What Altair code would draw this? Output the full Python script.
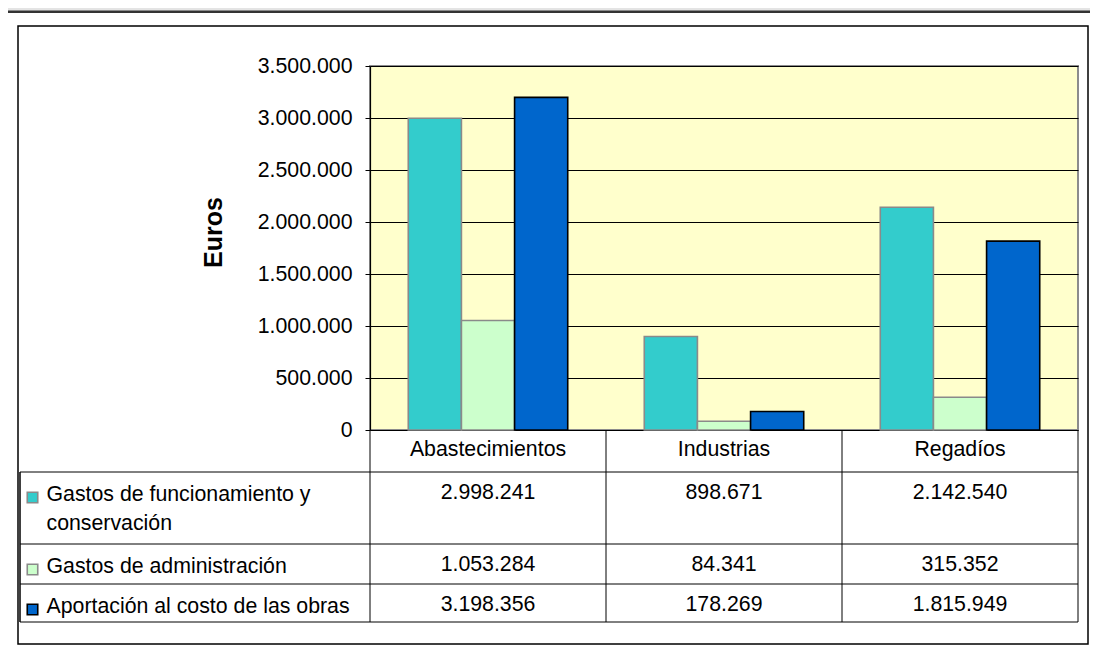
import altair as alt
import pandas as pd

# ---- data -------------------------------------------------------------
categories = ["Abastecimientos", "Industrias", "Regadíos"]
series = [
    "Gastos de funcionamiento y conservación",
    "Gastos de administración",
    "Aportación al costo de las obras",
]
series_labels = [
    "Gastos de funcionamiento y\nconservación",
    "Gastos de administración",
    "Aportación al costo de las obras",
]
funcionamiento = [2998241, 898671, 2142540]
administracion = [1053284, 84341, 315352]
aportacion = [3198356, 178269, 1815949]
y_ticks = [0, 500000, 1000000, 1500000, 2000000, 2500000, 3000000, 3500000]

# ---- layout / style (not data) ----------------------------------------
W, H = 708, 364
FONT = "Liberation Sans"
FS = 21.3
fills = ["#33CCCC", "#CCFFCC", "#0066CC"]
strokes = ["#8a8a8a", "#8a8a8a", "#000000"]
ROW_H = [42, 72, 40, 38]  # header row + one row per series
row_tops = [sum(ROW_H[:i]) for i in range(len(ROW_H))]
TABLE_H = sum(ROW_H)


def fmt(v):
    return f"{v:,}".replace(",", ".")


all_vals = [funcionamiento, administracion, aportacion]
bars = pd.DataFrame(
    [
        {"Categoría": c, "Serie": s, "Valor": vals[j], "Texto": fmt(vals[j]),
         "ty": row_tops[i + 1] + 26.5}
        for i, (s, vals) in enumerate(zip(series, all_vals))
        for j, c in enumerate(categories)
    ]
)
legend_df = pd.DataFrame(
    {
        "Serie": series,
        "Etiqueta": series_labels,
        "ty": [row_tops[i + 1] + 28.5 for i in range(len(series))],
        "sy": [row_tops[i + 1] + 25.5 for i in range(len(series))],
    }
)
header_df = pd.DataFrame({"Categoría": categories, "ty": [26] * len(categories)})
hlines_df = pd.DataFrame({"ty": row_tops[1:] + [TABLE_H]})
vlines_df = pd.DataFrame({"Categoría": categories})

x_scale = alt.Scale(domain=categories, paddingInner=0, paddingOuter=0)
color_scale = alt.Scale(domain=series, range=fills)
stroke_scale = alt.Scale(domain=series, range=strokes)
ty_scale = alt.Scale(domain=[0, TABLE_H], range=[H, H + TABLE_H], nice=False, zero=False)

base_x = alt.X("Categoría:N", scale=x_scale,
               axis=alt.Axis(labels=False, ticks=False, title=None, grid=False,
                             domain=True, domainColor="#000000", domainWidth=1.2))

bar_layer = alt.Chart(bars).mark_bar(strokeWidth=1.6).encode(
    x=base_x,
    xOffset=alt.XOffset("Serie:N", scale=alt.Scale(domain=series, paddingInner=0, paddingOuter=0.72)),
    y=alt.Y(
        "Valor:Q",
        scale=alt.Scale(domain=[0, 3500000], nice=False),
        axis=alt.Axis(
            values=y_ticks,
            title="Euros",
            titleFontSize=25,
            titleFontWeight="bold",
            titleFont=FONT,
            titleColor="#000000",
            titleX=-157,
            titleY=166,
            titleBaseline="middle",
            labelExpr="replace(format(datum.value, ','), regexp(',', 'g'), '.')",
            labelFontSize=FS,
            labelFont=FONT,
            labelColor="#000000",
            labelPadding=13,
            labelFlush=False,
            labelOverlap=False,
            tickColor="#000000",
            tickSize=5,
            domainColor="#000000",
            domainWidth=1.2,
            grid=True,
            gridColor="#000000",
            gridOpacity=1,
            gridWidth=1,
        ),
    ),
    color=alt.Color("Serie:N", scale=color_scale, legend=None),
    stroke=alt.Stroke("Serie:N", scale=stroke_scale, legend=None),
)

# table: header (category names)
header_layer = alt.Chart(header_df).mark_text(
    font=FONT, fontSize=FS, color="#000000", baseline="alphabetic", align="center"
).encode(
    x=alt.X("Categoría:N", scale=x_scale, axis=None),
    y=alt.Y("ty:Q", scale=ty_scale, axis=None),
    text="Categoría:N",
)

# table: values
values_layer = alt.Chart(bars).mark_text(
    font=FONT, fontSize=FS, color="#000000", baseline="alphabetic", align="center"
).encode(
    x=alt.X("Categoría:N", scale=x_scale, axis=None),
    y=alt.Y("ty:Q", scale=ty_scale, axis=None),
    text="Texto:N",
)

# table: series labels
labels_layer = alt.Chart(legend_df).mark_text(
    font=FONT, fontSize=FS, color="#000000", baseline="alphabetic", align="left",
    lineBreak="\n", lineHeight=29,
).encode(
    x=alt.value(-323.5),
    y=alt.Y("ty:Q", scale=ty_scale, axis=None),
    text="Etiqueta:N",
)

swatch_layer = alt.Chart(legend_df).mark_square(size=110, strokeWidth=1.6, opacity=1).encode(
    x=alt.value(-337.5),
    y=alt.Y("sy:Q", scale=ty_scale, axis=None),
    color=alt.Color("Serie:N", scale=color_scale, legend=None),
    stroke=alt.Stroke("Serie:N", scale=stroke_scale, legend=None),
)

# table grid lines
hlines_layer = alt.Chart(hlines_df).mark_rule(color="#000000", strokeWidth=1).encode(
    x=alt.value(-350),
    x2=alt.value(W),
    y=alt.Y("ty:Q", scale=ty_scale, axis=None),
)
vlines_layer = alt.Chart(vlines_df).mark_rule(color="#000000", strokeWidth=1).encode(
    x=alt.X("Categoría:N", scale=x_scale, bandPosition=0, axis=None),
    y=alt.Y("y0:Q", scale=ty_scale, axis=None),
    y2="y1:Q",
).transform_calculate(y0="0", y1=str(TABLE_H))
vlast_layer = alt.Chart(vlines_df).transform_filter(
    alt.datum["Categoría"] == categories[-1]
).mark_rule(color="#000000", strokeWidth=1).encode(
    x=alt.X("Categoría:N", scale=x_scale, bandPosition=1, axis=None),
    y=alt.Y("y0:Q", scale=ty_scale, axis=None),
    y2="y1:Q",
).transform_calculate(y0="0", y1=str(TABLE_H))
vleft_layer = alt.Chart(hlines_df).transform_aggregate(
    y0="min(ty)", y1="max(ty)"
).mark_rule(color="#000000", strokeWidth=1.5).encode(
    x=alt.value(-350),
    y=alt.Y("y0:Q", scale=ty_scale, axis=None),
    y2="y1:Q",
)

# frame decorations (kept inside the 1082px-wide drawing area)
deco = pd.DataFrame({"k": [0]})
top_band = alt.Chart(deco).mark_rect(color="#e4e4e4").encode(
    x=alt.value(-362), x2=alt.value(720), y=alt.value(-58), y2=alt.value(-55)
)
top_line = alt.Chart(deco).mark_rect(color="#333333").encode(
    x=alt.value(-362), x2=alt.value(720), y=alt.value(-55.5), y2=alt.value(-53)
)
outer_box = alt.Chart(deco).mark_rect(fillOpacity=0, stroke="#000000", strokeWidth=1.5).encode(
    x=alt.value(-352), x2=alt.value(718), y=alt.value(-40), y2=alt.value(578)
)

chart = (
    alt.layer(
        top_band, top_line, outer_box,
        bar_layer,
        hlines_layer, vlines_layer, vlast_layer, vleft_layer,
        header_layer, values_layer, labels_layer, swatch_layer,
    )
    .resolve_scale(y="independent")
    .properties(width=W, height=H, padding=0, background="#ffffff")
    .configure_view(fill="#FFFFCC", stroke="#8c8c8c", strokeWidth=2)
)

chart.save("out.html", embed_options={"renderer": "svg", "actions": False})
